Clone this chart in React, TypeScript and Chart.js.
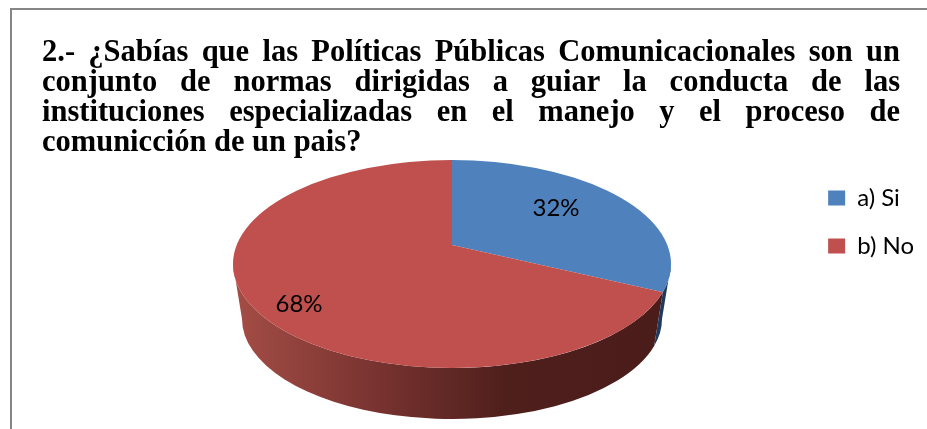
import React, { useEffect, useRef } from "react";
import { Chart, registerables } from "chart.js";

Chart.register(...registerables);

const categories = ["a) Si", "b) No"];
const values = [32, 68];
const sliceColors = ["#4F81BD", "#BF504D"];
const titleLines = [
  "2.- ¿Sabías que las Políticas Públicas Comunicacionales son un",
  "conjunto de normas dirigidas a guiar la conducta de las",
  "instituciones especializadas en el manejo y el proceso de",
  "comunicción de un pais?",
];
const labelFont = "Lato, 'Open Sans', sans-serif";
const titleFont = "bold 30.5px 'Liberation Serif', serif";

// Geometry of the tilted pie
const top = { cx: 452, cy: 264, rx: 219, ry: 104 };
const bottom = { cx: 452, cy: 319, rx: 210, ry: 100 };
const apex = { x: 452, y: 245 };
const yRatio = 0.475;

const frameAndTitle = {
  id: "frameAndTitle",
  beforeDraw(chart: any) {
    const { ctx, width, height } = chart;
    ctx.save();
    ctx.strokeStyle = "#868686";
    ctx.lineWidth = 2;
    ctx.beginPath();
    ctx.moveTo(11, height);
    ctx.lineTo(11, 9);
    ctx.lineTo(width, 9);
    ctx.stroke();
    ctx.fillStyle = "#000";
    ctx.font = titleFont;
    ctx.textBaseline = "alphabetic";
    const left = 42;
    const right = 900;
    titleLines.forEach((line, i) => {
      const y = 60.5 + i * 30;
      ctx.wordSpacing = "0px";
      if (i < titleLines.length - 1) {
        const w = ctx.measureText(line).width;
        const gaps = line.split(" ").length - 1;
        ctx.wordSpacing = `${(right - left - w) / gaps}px`;
      }
      ctx.fillText(line, left, y);
    });
    ctx.wordSpacing = "0px";
    ctx.restore();
  },
};

const tiltedPie = {
  id: "tiltedPie",
  beforeDatasetsDraw(chart: any) {
    const { ctx } = chart;
    const arc = chart.getDatasetMeta(0).data[0];
    if (!arc) return;
    // Where the first slice's end edge meets the rim of the top ellipse
    const a = arc.endAngle;
    const dx = Math.cos(a);
    const dy = Math.sin(a) * yRatio;
    const ox = (apex.x - top.cx) / top.rx;
    const oy = (apex.y - top.cy) / top.ry;
    const ux = dx / top.rx;
    const uy = dy / top.ry;
    const A = ux * ux + uy * uy;
    const B = 2 * (ox * ux + oy * uy);
    const C = ox * ox + oy * oy - 1;
    const s = (-B + Math.sqrt(B * B - 4 * A * C)) / (2 * A);
    const tEnd = Math.atan2(oy + uy * s, ox + ux * s);

    const wall = (from: number, to: number) => {
      ctx.beginPath();
      ctx.ellipse(bottom.cx, bottom.cy, bottom.rx, bottom.ry, 0, from, to);
      ctx.ellipse(top.cx, top.cy, top.rx, top.ry, 0, to, from, true);
      ctx.closePath();
    };

    ctx.save();
    const g = ctx.createLinearGradient(top.cx - top.rx, 0, top.cx + top.rx, 0);
    g.addColorStop(0, "#A54D46");
    g.addColorStop(0.3, "#7C3532");
    g.addColorStop(0.62, "#4F1F1C");
    g.addColorStop(1, "#4A1C1A");
    ctx.fillStyle = g;
    wall(tEnd, Math.PI);
    ctx.fill();
    ctx.fillStyle = "#1F3A5C";
    wall(0, tEnd);
    ctx.fill();
    ctx.restore();

    ctx.save();
    ctx.beginPath();
    ctx.ellipse(top.cx, top.cy, top.rx, top.ry, 0, 0, Math.PI * 2);
    ctx.clip();
    const sx = 270 / arc.outerRadius;
    const sy = sx * yRatio;
    ctx.translate(apex.x, apex.y);
    ctx.scale(sx, sy);
    ctx.translate(-arc.x, -arc.y);
  },
  afterDatasetsDraw(chart: any) {
    const { ctx } = chart;
    ctx.restore();
    ctx.save();
    ctx.fillStyle = "#000";
    ctx.font = `24px ${labelFont}`;
    ctx.textAlign = "center";
    ctx.textBaseline = "middle";
    const spots = [
      [556, 208],
      [299, 304],
    ];
    values.forEach((v, i) => {
      ctx.fillText(`${v}%`, spots[i][0], spots[i][1]);
    });
    ctx.restore();
  },
};

export default function App() {
  const ref = useRef<HTMLCanvasElement>(null);
  useEffect(() => {
    const chart = new Chart(ref.current!, {
      type: "pie",
      data: {
        labels: categories,
        datasets: [
          {
            data: values,
            backgroundColor: sliceColors,
            borderWidth: 0,
            clip: false,
          } as any,
        ],
      },
      options: {
        responsive: false,
        animation: false,
        layout: { padding: { top: 162, right: 3, bottom: 0, left: 0 } },
        plugins: {
          tooltip: { enabled: false },
          legend: {
            position: "right",
            align: "start",
            labels: {
              boxWidth: 17,
              boxHeight: 15,
              padding: 24,
              color: "#000",
              font: { family: labelFont, size: 24 },
            },
          },
        },
      },
      plugins: [frameAndTitle, tiltedPie],
    });
    return () => chart.destroy();
  }, []);
  return (
    <div style={{ position: "fixed", left: 0, top: 0, width: 927, height: 429, background: "#fff" }}>
      <canvas ref={ref} width={927} height={429} style={{ display: "block" }} />
    </div>
  );
}
